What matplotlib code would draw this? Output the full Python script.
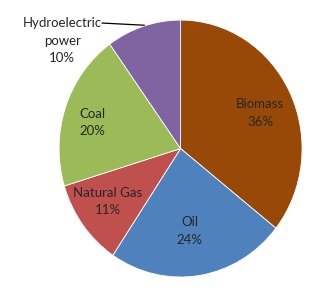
import numpy as np
import matplotlib.pyplot as plt

sources = ['Biomass', 'Oil', 'Natural Gas', 'Coal', 'Hydroelectric\npower']
shares = [36, 24, 11, 20, 10]
colors = ['#984807', '#4F81BD', '#C0504D', '#9BBB59', '#8064A2']

# label radius / angle nudges per wedge (inside labels)
lab_r = [0.71, 0.645, 0.73, 0.755]
lab_da = [-3, -2.3, -2, 3]

plt.rcParams['font.family'] = ['Lato', 'DejaVu Sans']
fnt = 9.5
tc = '#262626'

fig = plt.figure(figsize=(3.21, 2.89), dpi=100)
ax = fig.add_axes([0.184, 0.0415, 0.757, 0.889])

wedges, _ = ax.pie(shares, colors=colors, startangle=90, counterclock=False,
                   wedgeprops=dict(edgecolor='white', linewidth=0.6))
ax.set_aspect('auto')
ax.set_xlim(-1, 1)
ax.set_ylim(-1, 1)

for i, w in enumerate(wedges[:4]):
    mid = np.deg2rad((w.theta1 + w.theta2) / 2. + lab_da[i])
    x = lab_r[i] * np.cos(mid)
    y = lab_r[i] * np.sin(mid)
    ax.text(x, y, '%s\n%d%%' % (sources[i], shares[i]), ha='center', va='center',
            fontsize=fnt, color=tc, linespacing=1.55)

# hydro label sits outside with a leader line
ax.text(-0.975, 0.84, '%s\n%d%%' % (sources[4], shares[4]), ha='center', va='center',
        fontsize=fnt, color=tc, linespacing=1.55)
ax.plot([-0.645, -0.30], [0.977, 0.96], color='black', lw=0.9, clip_on=False)

plt.savefig('out.png', dpi=100)
